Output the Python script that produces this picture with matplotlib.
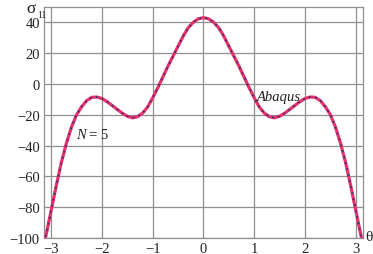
import numpy as np
import matplotlib
matplotlib.use("Agg")
import matplotlib.pyplot as plt

# Half-curve values (curve is even in theta)
theta_half = [0.0, 0.1, 0.2, 0.3, 0.4, 0.5, 0.6, 0.7, 0.8, 0.9, 1.0, 1.1, 1.2, 1.3,
              1.4, 1.5, 1.6, 1.7, 1.8, 1.9, 2.0, 2.1, 2.2, 2.3, 2.4, 2.5, 2.6, 2.7,
              2.8, 2.9, 3.0, 3.1, np.pi]
sigma_half = [43, 42.3, 40, 36.5, 31, 24.5, 18, 11.5, 4.5, -2.5, -9, -15, -19, -21.3,
              -22, -21, -19, -16.5, -14, -11.5, -9.5, -8.5, -8.7, -10.8, -14.8, -20,
              -28, -38.5, -51, -66, -82, -98, -103]

theta = np.concatenate([-np.array(theta_half[::-1]), np.array(theta_half[1:])])
sigma_n5 = np.concatenate([np.array(sigma_half[::-1]), np.array(sigma_half[1:])])
sigma_abaqus = sigma_n5.copy()

xticks = [-3, -2, -1, 0, 1, 2, 3]
yticks = [-100, -80, -60, -40, -20, 0, 20, 40]

plt.rcParams['font.family'] = ['Liberation Serif', 'DejaVu Serif']
plt.rcParams['axes.unicode_minus'] = True

fig = plt.figure(figsize=(3.73, 2.55), dpi=100)
ax = fig.add_axes([0.118, 0.063, 0.855, 0.906])

ax.plot(theta, sigma_n5, color='#e3336a', lw=2.3, zorder=3, solid_capstyle='butt')
ax.plot(theta, sigma_abaqus, color='#4a2a78', lw=1.3, ls=(0, (1, 2.4)), zorder=4)

ax.set_xlim(-np.pi, np.pi)
ax.set_ylim(-100, 50)
ax.set_xticks(xticks)
ax.set_yticks(yticks)
ax.set_xticklabels(['\u2212%d' % -t if t < 0 else str(t) for t in xticks], fontsize=10.5)
ax.set_yticklabels(['\u2212%d' % -t if t < 0 else str(t) for t in yticks], fontsize=10.5)
ax.tick_params(length=0, pad=3, colors='#222222')
ax.grid(True, color='#8f8f8f', lw=0.9)
ax.set_axisbelow(True)
for s in ax.spines.values():
    s.set_color('#8f8f8f')
    s.set_linewidth(0.9)

ax.text(-2.5, -33, 'N', fontsize=10.5, style='italic', va='center', ha='left', color='#222222')
ax.text(-2.26, -33, '= 5', fontsize=10.5, va='center', ha='left', color='#222222')
ax.text(1.05, -8, 'Abaqus', fontsize=10.5, style='italic', va='center', ha='left', color='#222222')

fig.text(0.070, 0.995, '\u03c3', fontsize=12.5, va='top', ha='left', color='#222222')
fig.text(0.100, 0.958, '11', fontsize=7, va='top', ha='left', color='#222222')
fig.text(0.978, 0.068, '\u03b8', fontsize=11, va='center', ha='left', color='#222222')

fig.savefig('out.png', dpi=100)
